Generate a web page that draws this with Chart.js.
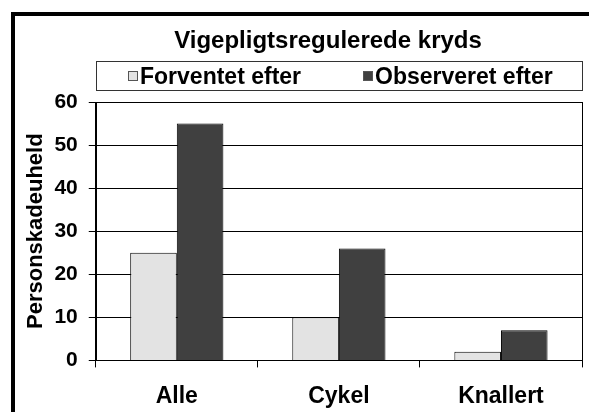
<!DOCTYPE html>
<html lang="da">
<head>
<meta charset="UTF-8" />
<title>Vigepligtsregulerede kryds</title>
<script src="https://cdn.jsdelivr.net/npm/chart.js"></script>
<style>
  body { margin: 0; background: #fff; font-family: 'Liberation Sans', Arial, sans-serif; }
  #wrap { position: relative; width: 589px; height: 412px; overflow: hidden; }
  #chart { position: absolute; left: 0; top: 0; }
  /* outer chart frame, only left and top edges are in view */
  #frame { position: absolute; left: 11px; top: 12px; right: -20px; bottom: -20px; border-left: 4px solid #000; border-top: 4px solid #000; }
  #title { position: absolute; left: 74px; width: 508px; top: 27px; text-align: center; font-weight: bold; font-size: 24px; line-height: 26px; color: #000; }
  #legend { position: absolute; left: 96px; top: 61px; width: 487px; height: 30px; box-sizing: border-box; border: 1px solid #333; padding-left: 31px; display: flex; align-items: center; }
  .item { display: flex; align-items: center; min-width: 235px; font-weight: bold; font-size: 23px; line-height: 28px; color: #000; white-space: nowrap; }
  .swatch { width: 8px; height: 8px; border: 1px solid #555; margin-right: 2px; }
</style>
</head>
<body>
<div id="wrap">
  <canvas id="chart" width="589" height="412"></canvas>
  <div id="frame"></div>
  <div id="title"></div>
  <div id="legend"></div>
</div>

<script>
  const chartTitle = 'Vigepligtsregulerede kryds';
  const yTitle = 'Personskadeuheld';
  const categories = ['Alle', 'Cykel', 'Knallert'];
  const seriesNames = ['Forventet efter', 'Observeret efter'];
  const forventet = [25, 10, 2];
  const observeret = [55, 26, 7];
  const yTicks = [0, 10, 20, 30, 40, 50, 60];

  Chart.defaults.font.family = "'Liberation Sans', Arial, sans-serif";

  document.getElementById('title').textContent = chartTitle;

  // border round the plot area
  const plotBorder = {
    id: 'plotBorder',
    beforeDatasetsDraw(chart) {
      const { ctx, chartArea: a } = chart;
      ctx.save();
      ctx.strokeStyle = '#000';
      ctx.lineWidth = 1;
      ctx.strokeRect(Math.round(a.left) + 0.5, Math.round(a.top) + 0.5,
        Math.round(a.right - a.left), Math.round(a.bottom - a.top));
      ctx.restore();
    }
  };

  // boxed legend built from the chart's own legend items
  const htmlLegend = {
    id: 'htmlLegend',
    afterUpdate(chart) {
      const box = document.getElementById('legend');
      box.innerHTML = '';
      Chart.defaults.plugins.legend.labels.generateLabels(chart).forEach(item => {
        const el = document.createElement('div');
        el.className = 'item';
        const sw = document.createElement('span');
        sw.className = 'swatch';
        sw.style.background = item.fillStyle;
        el.appendChild(sw);
        el.appendChild(document.createTextNode(item.text));
        box.appendChild(el);
      });
    }
  };

  const ctx = document.getElementById('chart').getContext('2d');
  new Chart(ctx, {
    type: 'bar',
    data: {
      labels: categories,
      datasets: [
        { label: seriesNames[0], data: forventet, backgroundColor: '#e3e3e3', borderColor: '#000', borderWidth: 1 },
        { label: seriesNames[1], data: observeret, backgroundColor: '#404040', borderColor: '#000', borderWidth: 1 }
      ]
    },
    options: {
      responsive: false,
      animation: false,
      devicePixelRatio: 1,
      layout: { padding: { left: 23, right: 7, top: 102, bottom: -13 } },
      datasets: { bar: { categoryPercentage: 0.575, barPercentage: 1 } },
      plugins: {
        legend: { display: false },
        title: { display: false },
        tooltip: { enabled: false }
      },
      scales: {
        x: {
          grid: { drawOnChartArea: false, color: '#000', tickLength: 7, offset: true },
          border: { color: '#000' },
          ticks: { color: '#000', font: { size: 23, weight: 'bold' }, padding: 15 }
        },
        y: {
          min: 0,
          max: 60,
          afterBuildTicks: axis => { axis.ticks = yTicks.map(v => ({ value: v })); },
          grid: { color: '#000', tickLength: 7 },
          border: { color: '#000' },
          ticks: { color: '#000', font: { size: 21, weight: 'bold' }, padding: 11 },
          title: {
            display: true,
            text: yTitle,
            color: '#000',
            font: { size: 22, weight: 'bold' },
            padding: { top: 0, bottom: -6 }
          }
        }
      }
    },
    plugins: [plotBorder, htmlLegend]
  });
</script>
</body>
</html>
